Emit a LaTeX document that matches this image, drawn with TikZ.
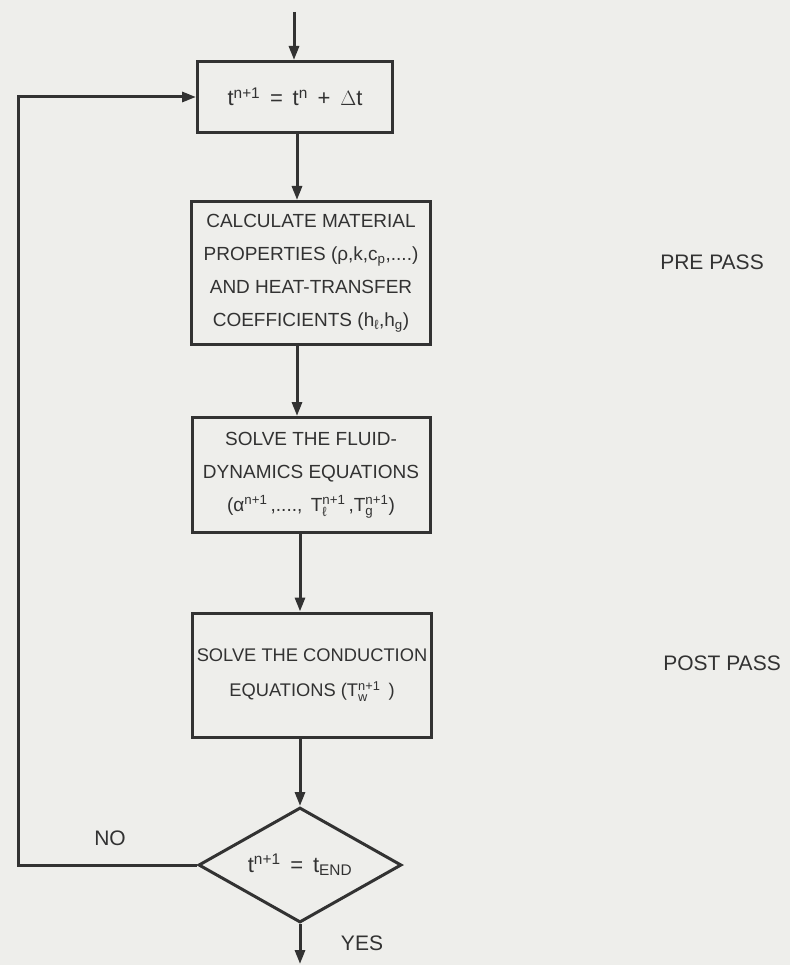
\documentclass[tikz,border=0pt]{standalone}
\usepackage{amsmath}
\usepackage{fontspec}
\setmainfont{Liberation Sans}
\usetikzlibrary{arrows.meta,shapes.geometric}
\definecolor{paper}{RGB}{238,238,235}
\definecolor{ink}{RGB}{50,50,50}
\newcommand{\tx}[1]{\text{#1}}
\tikzset{
  flowbox/.style={draw=ink, line width=3pt, rectangle, inner sep=0pt, align=center,
    text=ink, font=\fontsize{19}{33}\selectfont},
  decbox/.style={draw=ink, line width=3pt, shape=diamond, inner sep=0pt, align=center,
    text=ink, font=\fontsize{22}{26}\selectfont},
  flow/.style={draw=ink, line width=3pt, -{Triangle[length=14pt,width=10pt]}},
  lbl/.style={text=ink, font=\fontsize{21}{24}\selectfont, inner sep=0pt}
}
\begin{document}
\begin{tikzpicture}[x=1pt,y=-1pt]
\fill[paper] (0,0) rectangle (790,965);
\useasboundingbox (0,0) rectangle (790,965);

\node[flowbox, font=\fontsize{22}{26}\selectfont, minimum width=195pt, minimum height=71pt] (b1) at (295,97)
  {t$^{\tx{n+1}}$\, = \,t$^{\tx{n}}$\, + \,$\Delta$t};
\node[flowbox, minimum width=239pt, minimum height=143pt] (b2) at (311,273)
  {CALCULATE MATERIAL\\ PROPERTIES (ρ,k,c$_{\tx{p}}$,....)\\ AND HEAT-TRANSFER\\ COEFFICIENTS (h$_{\tx{ℓ}}$,h$_{\tx{g}}$)};
\node[flowbox, minimum width=238pt, minimum height=115pt] (b3) at (311,475)
  {SOLVE THE FLUID-\\ DYNAMICS EQUATIONS\\ (α$^{\tx{n+1}}$\,,...., \,T$^{\tx{n+1}}_{\tx{ℓ}}$\,,T$^{\tx{n+1}}_{\tx{g}}$)};
\node[flowbox, font=\fontsize{18.3}{35}\selectfont, minimum width=239pt, minimum height=124pt] (b4) at (312,675)
  {SOLVE THE CONDUCTION\\ EQUATIONS (T$^{\tx{n+1}}_{\tx{w}}$ \,)};
\node[decbox, minimum width=203pt, minimum height=115pt, aspect=1.77] (d) at (300,865)
  {t$^{\tx{n+1}}$\, = \,t$_{\tx{END}}$};

\node[lbl] (pre) at (712,262) {PRE PASS};
\node[lbl] (post) at (722,663) {POST PASS};
\node[lbl] (no) at (110,838) {NO};
\node[lbl] (yes) at (362,943) {YES};

\coordinate (col) at (297,0);
\coordinate (start) at (294,12);
\coordinate (finish) at (300,964);
\coordinate (loopx) at (18,0);

\draw[flow] (start) -- (b1.north -| start);
\draw[flow] (b1.south -| col) -- (b2.north -| col);
\draw[flow] (b2.south -| col) -- (b3.north -| col);
\draw[flow] (b3.south -| d) -- (b4.north -| d);
\draw[flow] (b4.south -| d) -- (d.north);
\draw[flow] (d.south) -- (finish);
\draw[flow] (d.west) -- (d.west -| loopx) |- (b1.west);
\end{tikzpicture}
\end{document}
